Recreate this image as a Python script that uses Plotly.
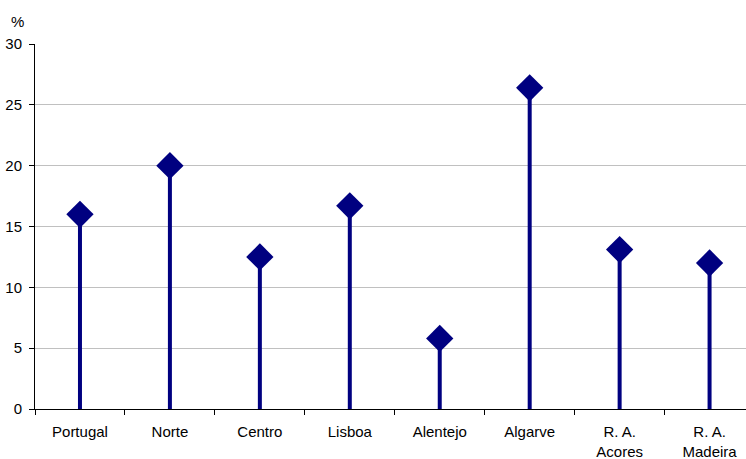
import plotly.graph_objects as go

categories = ["Portugal", "Norte", "Centro", "Lisboa", "Alentejo", "Algarve", "R. A.<br>Acores", "R. A.<br>Madeira"]
values = [16.0, 20.0, 12.5, 16.7, 5.8, 26.4, 13.1, 12.0]
y_ticks = [0, 5, 10, 15, 20, 25, 30]

navy = "#000080"
font = dict(family="Arial, Liberation Sans, sans-serif", size=15, color="black")

stem_x, stem_y = [], []
for c, v in zip(categories, values):
    stem_x += [c, c, None]
    stem_y += [0, v, None]

fig = go.Figure()
fig.add_trace(go.Scatter(x=stem_x, y=stem_y, mode="lines",
                         line=dict(color=navy, width=4), hoverinfo="skip", showlegend=False))
fig.add_trace(go.Scatter(x=categories, y=values, mode="markers",
                         marker=dict(symbol="diamond", size=21, color=navy), showlegend=False))

fig.update_layout(
    width=746, height=459,
    margin=dict(l=35, r=0, t=44, b=50),
    paper_bgcolor="white", plot_bgcolor="white",
    font=font,
    xaxis=dict(type="category", categoryorder="array", categoryarray=categories,
               range=[-0.5, 7.405], tickson="boundaries", ticks="outside", ticklen=5,
               tickcolor="black", showline=True, linecolor="black", linewidth=1,
               showgrid=False, zeroline=False, tickfont=font, automargin=False,
               ticklabelstandoff=9),
    yaxis=dict(range=[0, 30], tickvals=y_ticks, ticks="outside", ticklen=5, tickcolor="black",
               showline=True, linecolor="black", linewidth=1, showgrid=True,
               gridcolor="#c0c0c0", gridwidth=1, zeroline=False, tickfont=font, automargin=False,
               ticklabelstandoff=4),
    annotations=[dict(text="%", xref="paper", yref="paper", x=-0.025, y=1.0, yshift=12,
                      xanchor="center", yanchor="bottom", showarrow=False, font=font)],
)

fig.write_html("out.html", config={"displayModeBar": False},
               post_script="document.body.style.margin='0';document.body.style.overflow='hidden';")
